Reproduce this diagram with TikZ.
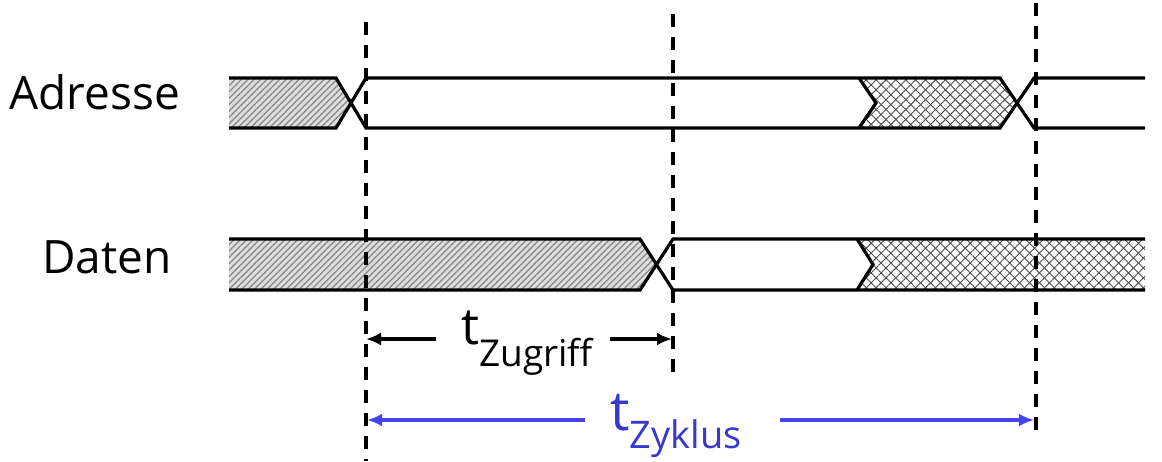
\documentclass[tikz,border=0pt]{standalone}
\usepackage{fontspec}
\setmainfont{Open Sans}
\usetikzlibrary{patterns.meta,arrows.meta}
\definecolor{zblue}{RGB}{56,56,204}
\definecolor{zarrow}{RGB}{68,68,240}
\tikzset{
  busline/.style={line width=3.2pt, line join=miter, line cap=butt},
  hatchfill/.style={preaction={fill=gray!25}, pattern={Lines[angle=45,distance=4.5pt,line width=1.4pt]}, pattern color=gray!90},
  crossfill/.style={pattern={Lines[angle=45,distance=7pt,line width=0.9pt]}, pattern color=gray!60!black,
     postaction={pattern={Lines[angle=-45,distance=7pt,line width=0.9pt]}, pattern color=gray!60!black}},
  marker/.style={line width=3.2pt, dash pattern=on 13pt off 10pt},
  dimarrow/.style={line width=3.2pt, -{Latex[length=15pt,width=13pt]}},
  lbl/.style={inner sep=0pt, anchor=base west, font=\fontsize{46}{50}\selectfont},
}
\begin{document}
\begin{tikzpicture}[x=1pt,y=-1pt]
\useasboundingbox (0,0) rectangle (1162,461);
% ---- Adresse bus
\path[hatchfill] (229,78) -- (336,78) -- (351,103) -- (336,128) -- (229,128) -- cycle;
\path[crossfill] (859,78) -- (1000,78) -- (1017,103) -- (1000,128) -- (859,128) -- (876,103) -- cycle;
\draw[busline] (229,78) -- (336,78) -- (366,128) -- (1000,128) -- (1034,78) -- (1145,78);
\draw[busline] (229,128) -- (336,128) -- (366,78) -- (1000,78) -- (1034,128) -- (1145,128);
\draw[busline] (859,78) -- (876,103) -- (859,128);
% ---- Daten bus
\path[hatchfill] (229,239) -- (640,239) -- (656.5,264.5) -- (640,290) -- (229,290) -- cycle;
\path[crossfill] (857,239) -- (1145,239) -- (1145,290) -- (857,290) -- (873,264.5) -- cycle;
\draw[busline] (229,239) -- (640,239) -- (673,290) -- (1145,290);
\draw[busline] (229,290) -- (640,290) -- (673,239) -- (1145,239);
\draw[busline] (857,239) -- (873,264.5) -- (857,290);
% ---- markers
\coordinate (m1t) at (366,22);  \coordinate (m1b) at (366,461);
\coordinate (m2t) at (673,14);  \coordinate (m2b) at (673,380);
\coordinate (m3t) at (1036,3);  \coordinate (m3b) at (1036,440);
\draw[marker] (m1t) -- (m1b);
\draw[marker] (m2t) -- (m2b);
\draw[marker] (m3t) -- (m3b);
% ---- labels
\node[lbl] (adr) at (9,109) {Adresse};
\node[lbl] (dat) at (42,273) {Daten};
% ---- t_Zugriff
\node[inner sep=0pt, anchor=base west] (tz) at (461,344)
  {\fontsize{51}{51}\selectfont t\raisebox{-22pt}{\fontsize{37}{37}\selectfont Zugriff}};
\coordinate (za1) at (436,339); \coordinate (za2) at (366,339);
\coordinate (zb1) at (610,339); \coordinate (zb2) at (672,339);
\draw[dimarrow] (za1) -- (za2);
\draw[dimarrow] (zb1) -- (zb2);
% ---- t_Zyklus
\node[inner sep=0pt, anchor=base west, text=zblue] (ty) at (610,430)
  {\fontsize{55}{55}\selectfont t\raisebox{-18pt}{\fontsize{38}{38}\selectfont Zyklus}};
\coordinate (ya1) at (585,420); \coordinate (ya2) at (367,420);
\coordinate (yb1) at (780,420); \coordinate (yb2) at (1034,420);
\draw[dimarrow, draw=zarrow, fill=zarrow] (ya1) -- (ya2);
\draw[dimarrow, draw=zarrow, fill=zarrow] (yb1) -- (yb2);
\end{tikzpicture}
\end{document}
